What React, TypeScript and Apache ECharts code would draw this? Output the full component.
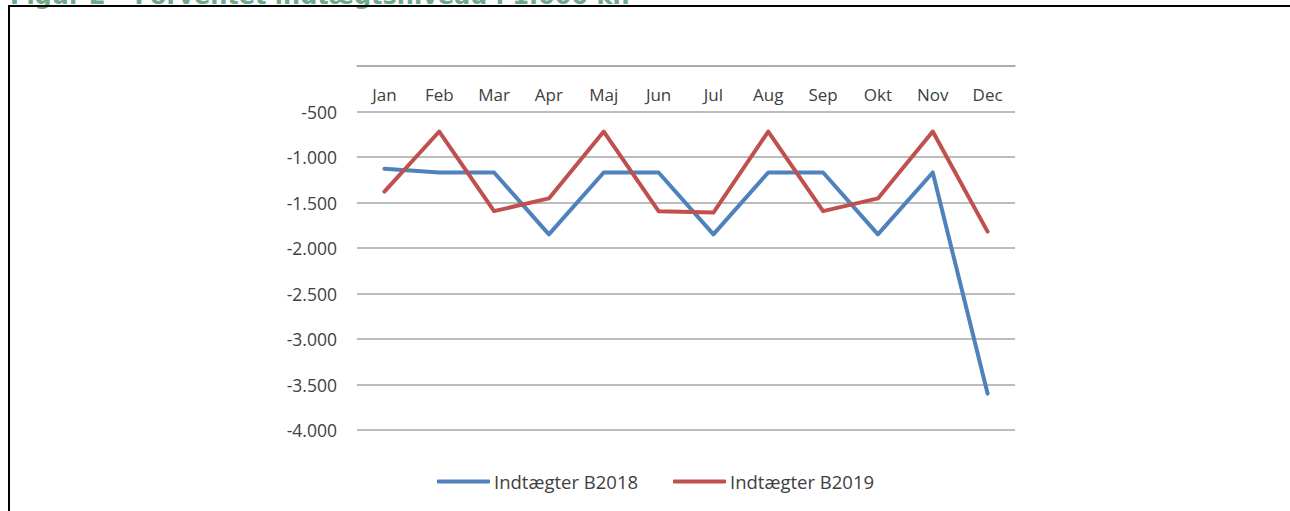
import React, { useEffect, useRef } from "react";
import * as echarts from "echarts";

const months = ["Jan", "Feb", "Mar", "Apr", "Maj", "Jun", "Jul", "Aug", "Sep", "Okt", "Nov", "Dec"];
const indtaegter2018 = [-1130, -1170, -1170, -1850, -1170, -1170, -1850, -1170, -1170, -1850, -1170, -3600];
const indtaegter2019 = [-1380, -720, -1595, -1455, -720, -1595, -1610, -720, -1595, -1455, -720, -1820];
const seriesNames = ["Indtægter B2018", "Indtægter B2019"];
const titleText = "Figur 2 – Forventet indtægtsniveau i 1.000 kr.";

const fmt = (v: number) => {
  if (v === 0) return "";
  const s = Math.abs(v).toString().replace(/\B(?=(\d{3})+(?!\d))/g, ".");
  return (v < 0 ? "-" : "") + s;
};

export default function App() {
  const ref = useRef<HTMLDivElement>(null);
  useEffect(() => {
    if (!ref.current) return;
    const chart = echarts.init(ref.current, null, { renderer: "svg" });
    const font = "'Open Sans', 'Liberation Sans', sans-serif";
    chart.setOption({
      animation: false,
      backgroundColor: "#ffffff",
      textStyle: { fontFamily: font },
      grid: { left: 357, right: 275, top: 66, bottom: 81, containLabel: false },
      xAxis: {
        type: "category",
        position: "top",
        data: months,
        boundaryGap: true,
        axisLine: { show: true, onZero: false, lineStyle: { color: "#a6a6a6", width: 1.5 } },
        axisTick: { show: false },
        axisLabel: { inside: true, margin: 20, color: "#404040", fontSize: 17, fontFamily: font },
        splitLine: { show: false },
      },
      yAxis: {
        type: "value",
        min: -4000,
        max: 0,
        interval: 500,
        axisLine: { show: false },
        axisTick: { show: false },
        axisLabel: { margin: 20, color: "#404040", fontSize: 17.5, fontFamily: font, formatter: fmt },
        splitLine: { show: true, lineStyle: { color: "#a6a6a6", width: 1.5 } },
      },
      legend: {
        left: 432,
        top: 467,
        itemWidth: 53,
        itemHeight: 4,
        itemGap: 35,
        icon: "roundRect",
        textStyle: { color: "#404040", fontSize: 18.5, fontFamily: font, padding: [0, 0, 0, -1] },
        data: seriesNames,
      },
      series: [
        {
          name: seriesNames[0],
          type: "line",
          data: indtaegter2018,
          symbol: "none",
          color: "#4f81bd",
          lineStyle: { width: 4, color: "#4f81bd", cap: "round", join: "round" },
        },
        {
          name: seriesNames[1],
          type: "line",
          data: indtaegter2019,
          symbol: "none",
          color: "#c0504d",
          lineStyle: { width: 4, color: "#c0504d", cap: "round", join: "round" },
        },
      ],
      graphic: [
        {
          type: "text",
          left: 10,
          top: -16,
          style: {
            text: titleText,
            fill: "#6fa98b",
            font: "bold 24px 'DejaVu Sans', Verdana, sans-serif",
          },
        },
        {
          type: "line",
          shape: { x1: 8, y1: 6, x2: 1290, y2: 6 },
          style: { stroke: "#000", lineWidth: 2 },
        },
        {
          type: "line",
          shape: { x1: 9, y1: 5, x2: 9, y2: 511 },
          style: { stroke: "#000", lineWidth: 2 },
        },
      ],
    });
    return () => chart.dispose();
  }, []);
  return (
    <div
      ref={ref}
      style={{ position: "absolute", left: 0, top: 0, width: 1290, height: 511 }}
    />
  );
}
